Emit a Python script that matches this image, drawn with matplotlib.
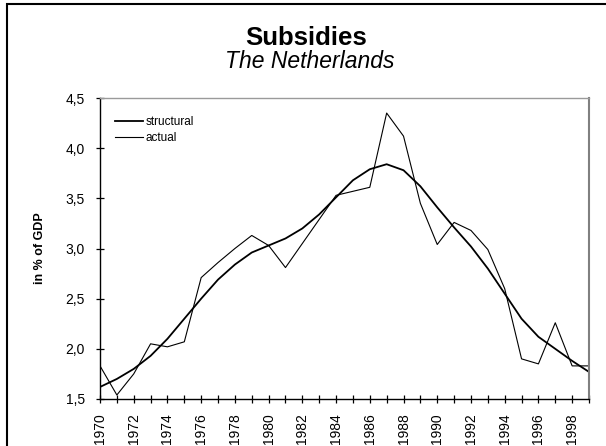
import matplotlib
matplotlib.use("Agg")
import matplotlib.pyplot as plt
from matplotlib.patches import Rectangle
from matplotlib.ticker import FixedLocator, FuncFormatter

plt.rcParams['font.family'] = ['Liberation Sans', 'DejaVu Sans']

years = list(range(1970, 2000))
structural = [1.62, 1.70, 1.80, 1.93, 2.10, 2.30, 2.50, 2.69, 2.84, 2.96,
              3.03, 3.10, 3.20, 3.34, 3.51, 3.68, 3.79, 3.84, 3.78, 3.62,
              3.41, 3.21, 3.02, 2.80, 2.55, 2.30, 2.12, 2.00, 1.88, 1.77]
actual = [1.83, 1.54, 1.75, 2.05, 2.02, 2.07, 2.71, 2.86, 3.00, 3.13,
          3.03, 2.81, 3.05, 3.29, 3.53, 3.57, 3.61, 4.35, 4.12, 3.45,
          3.04, 3.26, 3.18, 2.99, 2.60, 1.90, 1.85, 2.26, 1.83, 1.83]
ytick_vals = [1.5, 2.0, 2.5, 3.0, 3.5, 4.0, 4.5]
xlabel_years = list(range(1970, 1999, 2))

W, H = 606, 446
fig = plt.figure(figsize=(W / 100, H / 100), dpi=100)

# outer frame (cut off on right and bottom)
fig.patches.append(Rectangle((7 / W, -0.05), 1.2, 1 - 4 / H + 0.05,
                             transform=fig.transFigure, fill=False,
                             edgecolor='black', linewidth=1.5))

ax = fig.add_axes([100 / W, 1 - 399 / H, (589 - 100) / W, (399 - 98) / H])
ax.plot(years, structural, color='black', linewidth=1.3, label='structural')
ax.plot(years, actual, color='black', linewidth=0.8, label='actual')

ax.set_xlim(1970, 1999)
ax.set_ylim(1.5, 4.5)

ax.xaxis.set_major_locator(FixedLocator(xlabel_years))
ax.xaxis.set_minor_locator(FixedLocator(years))
ax.yaxis.set_major_locator(FixedLocator(ytick_vals))
ax.yaxis.set_major_formatter(FuncFormatter(lambda v, p: f"{v:.1f}".replace('.', ',')))
ax.xaxis.set_major_formatter(FuncFormatter(lambda v, p: f"{int(v)}"))

ax.tick_params(axis='x', which='both', direction='inout', length=6, width=0.9,
               labelsize=10, rotation=90, pad=7)
ax.tick_params(axis='y', which='major', direction='inout', length=6, width=0.9,
               labelsize=10, pad=8)

for s in ['left', 'bottom']:
    ax.spines[s].set_color('black')
    ax.spines[s].set_linewidth(1.0)
ax.spines['top'].set_color('#9a9a9a')
ax.spines['top'].set_linewidth(1.0)
ax.spines['right'].set_color('#808080')
ax.spines['right'].set_linewidth(1.5)

ax.set_ylabel('in % of GDP', fontsize=9, fontweight='bold', labelpad=14)

leg = ax.legend(loc='upper left', bbox_to_anchor=(0.02, 0.955), frameon=False,
                fontsize=8.5, handlelength=2.4, handletextpad=0.2,
                labelspacing=0.3, borderaxespad=0.0)

fig.text(306 / W, 1 - 45 / H, 'Subsidies', ha='center', va='baseline',
         fontsize=18.5, fontweight='bold')
fig.text(310 / W, 1 - 68 / H, 'The Netherlands', ha='center', va='baseline',
         fontsize=16.5, style='italic')

fig.savefig('out.png', dpi=100)
